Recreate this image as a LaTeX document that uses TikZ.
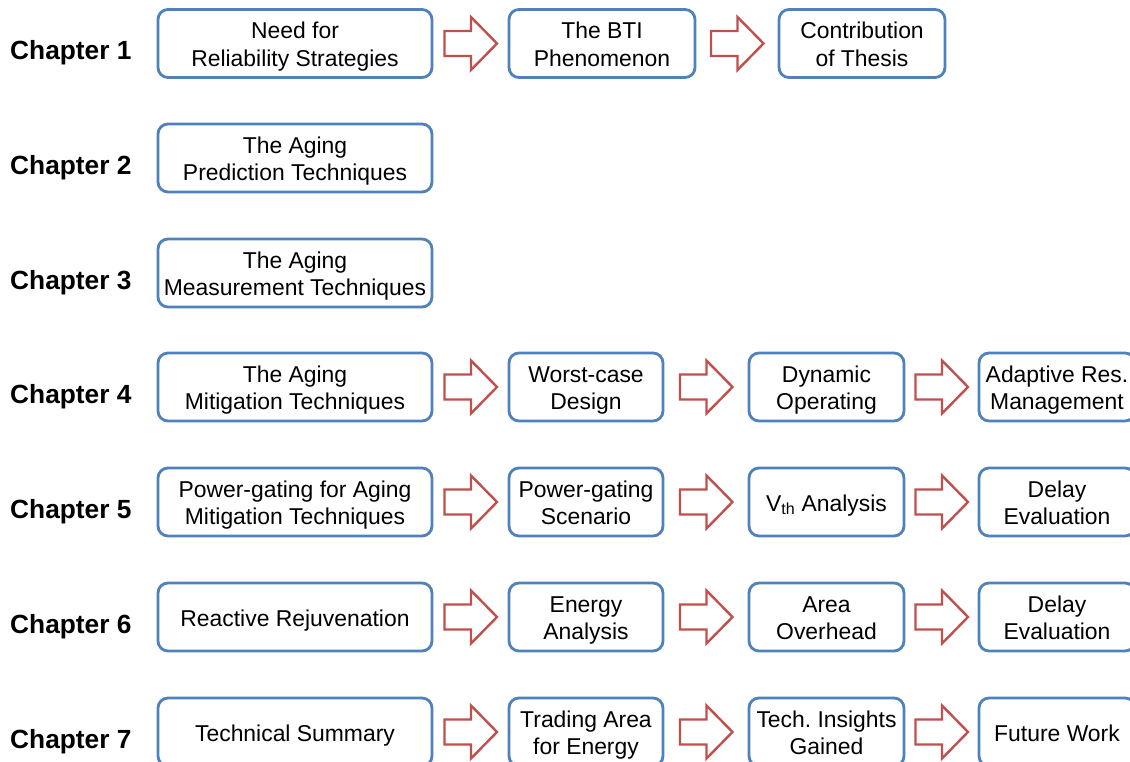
\documentclass[tikz,border=0pt]{standalone}
\usepackage{fontspec}
\setmainfont{Liberation Sans}
\usetikzlibrary{calc}
\frenchspacing
\definecolor{boxblue}{HTML}{4F81BD}
\definecolor{arrowred}{HTML}{C0504D}
\tikzset{
  stagebox/.style={draw=boxblue, line width=2.8pt, rounded corners=10pt, fill=white,
    minimum height=68pt, inner sep=1pt,
    font=\fontsize{22.9}{27.5}\selectfont},
  chaplabel/.style={anchor=west, inner sep=0pt, font=\fontsize{26.3}{30}\selectfont\bfseries},
  blockarrow/.style={draw=arrowred, line width=2.4pt, fill=white, line join=miter}
}
% centred stack of lines, drawn a little below the middle of its box
\newcommand\stage[1]{\raisebox{-3.5pt}[\height][\depth]{\begin{tabular}{@{}c@{}}#1\end{tabular}}}
% hollow block arrow centred between the facing sides of two boxes
\newcommand\flowarrow[2]{%
  \path ($(#1.east)!0.5!(#2.west)$) coordinate (mid-#1);
  \draw[blockarrow] ($(mid-#1)+(-26,-12.5)$) -- ++(26.5,0) -- ++(0,-14) -- ++(26,26.5)
    -- ++(-26,26.5) -- ++(0,-14) -- ++(-26.5,0) -- cycle;}
\begin{document}
\begin{tikzpicture}[x=1pt, y=-1pt]
\clip (0,0) rectangle (1130,762);
\fill[white] (0,0) rectangle (1130,762);

% chapter labels
\foreach \n/\y in {1/43.5, 2/158, 3/273, 4/387, 5/502, 6/617, 7/732}
  \node[chaplabel] (ch\n) at (10,\y+9.5) {Chapter \n};

% chapter 1
\node[stagebox, minimum width=274pt] (a1) at (295,43.5) {\stage{Need for\\Reliability Strategies}};
\node[stagebox, minimum width=186pt] (a2) at (602,43.5) {\stage{The BTI\\Phenomenon}};
\node[stagebox, minimum width=166pt] (a3) at (862,43.5) {\stage{Contribution\\of Thesis}};

% chapters 2 and 3
\node[stagebox, minimum width=274pt] (b1) at (295,158) {\stage{The Aging\\Prediction Techniques}};
\node[stagebox, minimum width=274pt] (c1) at (295,273) {\stage{The Aging\\Measurement Techniques}};

% chapter 4
\node[stagebox, minimum width=274pt] (d1) at (295,387) {\stage{The Aging\\Mitigation Techniques}};
\node[stagebox, minimum width=154pt] (d2) at (586,387) {\stage{Worst-case\\Design}};
\node[stagebox, minimum width=155pt] (d3) at (826.5,387) {\stage{Dynamic\\Operating}};
\node[stagebox, minimum width=156pt] (d4) at (1057,387) {\stage{Adaptive Res.\\Management}};

% chapter 5
\node[stagebox, minimum width=274pt] (e1) at (295,502) {\stage{Power-gating for Aging\\Mitigation Techniques}};
\node[stagebox, minimum width=154pt] (e2) at (586,502) {\stage{Power-gating\\Scenario}};
\node[stagebox, minimum width=155pt] (e3) at (826.5,502) {\stage{V\textsubscript{th} Analysis}};
\node[stagebox, minimum width=156pt] (e4) at (1057,502) {\stage{Delay\\Evaluation}};

% chapter 6
\node[stagebox, minimum width=274pt] (f1) at (295,617) {\stage{Reactive Rejuvenation}};
\node[stagebox, minimum width=154pt] (f2) at (586,617) {\stage{Energy\\Analysis}};
\node[stagebox, minimum width=155pt] (f3) at (826.5,617) {\stage{Area\\Overhead}};
\node[stagebox, minimum width=156pt] (f4) at (1057,617) {\stage{Delay\\Evaluation}};

% chapter 7
\node[stagebox, minimum width=274pt] (g1) at (295,732) {\stage{Technical Summary}};
\node[stagebox, minimum width=154pt] (g2) at (586,732) {\stage{Trading Area\\for Energy}};
\node[stagebox, minimum width=155pt] (g3) at (826.5,732) {\stage{Tech. Insights\\Gained}};
\node[stagebox, minimum width=156pt] (g4) at (1057,732) {\stage{Future Work}};

% flow arrows
\flowarrow{a1}{a2}
\flowarrow{a2}{a3}
\foreach \r in {d,e,f,g}{
  \flowarrow{\r1}{\r2}
  \flowarrow{\r2}{\r3}
  \flowarrow{\r3}{\r4}
}
\end{tikzpicture}
\end{document}
